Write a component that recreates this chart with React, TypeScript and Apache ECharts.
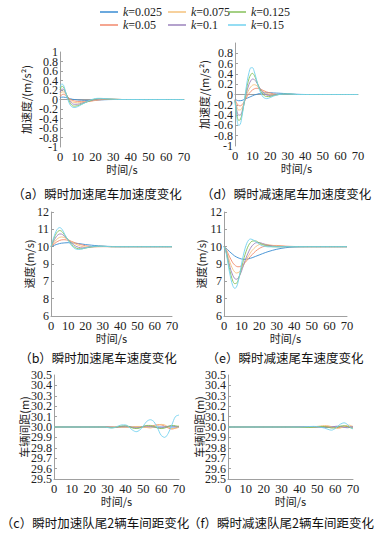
import React, { useEffect, useRef } from "react";
import * as echarts from "echarts";

const names = ["k=0.025", "k=0.05", "k=0.075", "k=0.1", "k=0.125", "k=0.15"];
const colors = ["#3a8dd3", "#f2896c", "#f5c27c", "#9b83bd", "#86c15a", "#72d2ef"];

// (a) instant acceleration - acceleration
const tA = [0, 1, 2, 3, 4, 5, 6, 7, 8, 10, 12, 14, 16, 18, 20, 22, 25, 30, 35, 40, 50, 60, 70];
const accA_025 = [0.03, 0.05, 0.05, 0.045, 0.035, 0.025, 0.015, 0.005, 0, -0.01, -0.015, -0.02, -0.02, -0.02, -0.015, -0.01, -0.005, 0, 0, 0, 0, 0, 0];
const accA_05 = [0.06, 0.1, 0.11, 0.09, 0.06, 0.03, 0, -0.02, -0.03, -0.04, -0.04, -0.04, -0.035, -0.03, -0.02, -0.01, 0, 0.003, 0, 0, 0, 0, 0];
const accA_075 = [0.1, 0.16, 0.16, 0.12, 0.07, 0.02, -0.02, -0.05, -0.06, -0.07, -0.06, -0.05, -0.04, -0.03, -0.01, 0, 0.005, 0.005, 0, 0, 0, 0, 0];
const accA_1 = [0.15, 0.22, 0.21, 0.15, 0.08, 0.01, -0.05, -0.09, -0.1, -0.1, -0.08, -0.06, -0.04, -0.02, 0, 0.01, 0.01, 0.005, 0, 0, 0, 0, 0];
const accA_125 = [0.2, 0.28, 0.26, 0.17, 0.07, -0.02, -0.09, -0.13, -0.14, -0.13, -0.1, -0.07, -0.04, -0.01, 0.01, 0.02, 0.015, 0.005, 0, 0, 0, 0, 0];
const accA_15 = [0.25, 0.33, 0.3, 0.18, 0.05, -0.06, -0.13, -0.16, -0.17, -0.15, -0.11, -0.07, -0.03, 0, 0.02, 0.025, 0.02, 0.005, 0, 0, 0, 0, 0];

// (b) instant acceleration - speed
const tB = [0, 1, 2, 3, 4, 5, 6, 7, 8, 10, 12, 14, 16, 18, 20, 22, 25, 30, 35, 40, 50, 60, 70];
const spdB_025 = [10, 10.04, 10.08, 10.12, 10.15, 10.18, 10.2, 10.21, 10.22, 10.23, 10.22, 10.2, 10.18, 10.15, 10.12, 10.1, 10.07, 10.03, 10.01, 10, 10, 10, 10];
const spdB_05 = [10, 10.08, 10.17, 10.25, 10.31, 10.36, 10.39, 10.4, 10.4, 10.36, 10.3, 10.22, 10.15, 10.1, 10.05, 10.02, 10, 10, 10, 10, 10, 10, 10];
const spdB_075 = [10, 10.13, 10.27, 10.39, 10.48, 10.54, 10.56, 10.55, 10.51, 10.41, 10.28, 10.16, 10.07, 10.01, 9.98, 9.98, 9.99, 10.01, 10, 10, 10, 10, 10];
const spdB_1 = [10, 10.2, 10.4, 10.57, 10.68, 10.73, 10.73, 10.67, 10.58, 10.4, 10.2, 10.05, 9.96, 9.93, 9.94, 9.97, 10, 10.02, 10, 10, 10, 10, 10];
const spdB_125 = [10, 10.28, 10.55, 10.75, 10.88, 10.93, 10.9, 10.8, 10.65, 10.38, 10.12, 9.95, 9.88, 9.88, 9.92, 9.96, 10.01, 10.02, 10, 10, 10, 10, 10];
const spdB_15 = [10, 10.35, 10.65, 10.9, 11.05, 11.1, 11.05, 10.9, 10.7, 10.35, 10.05, 9.88, 9.84, 9.87, 9.93, 9.98, 10.02, 10.02, 10, 10, 10, 10, 10];

// (c) instant acceleration - gap
const tC = [0, 5, 10, 15, 20, 25, 28, 30, 32, 34, 36, 38, 40, 42, 44, 46, 48, 50, 52, 54, 56, 58, 60, 62, 64, 66, 68, 70];
const gapC_025 = [30, 30, 30, 30, 30, 30, 30, 30, 30, 30, 30, 30, 30, 30, 30, 30, 30, 30, 30, 30, 30, 30, 30, 30, 30, 30, 30, 30];
const gapC_05 = [30, 30, 30, 30, 30, 30, 30, 30, 30, 30, 30, 30, 30, 30, 30, 30, 30, 30, 30, 30.005, 30.015, 30.022, 30.02, 30.008, 29.99, 29.98, 29.99, 30.01];
const gapC_075 = [30, 30, 30, 30, 30, 30, 30, 30, 30, 30, 30, 30, 30, 30, 30, 30.005, 30.005, 30, 29.995, 29.99, 30, 30.015, 30.025, 30.02, 30, 29.985, 29.985, 30];
const gapC_1 = [30, 30, 30, 30, 30, 30, 30, 30, 29.997, 29.995, 30, 30.005, 30.008, 30.004, 29.995, 29.99, 29.995, 30.005, 30.01, 30.008, 30, 29.993, 29.992, 30, 30.008, 30.01, 30.005, 30];
const gapC_125 = [30, 30, 30, 30, 30, 30, 30, 29.997, 29.993, 29.995, 30.003, 30.01, 30.012, 30.005, 29.99, 29.985, 29.99, 30.005, 30.015, 30.015, 30.005, 29.99, 29.985, 29.99, 30.005, 30.015, 30.012, 30.005];
const gapC_15 = [30, 30, 30, 30, 30, 30, 30, 29.995, 29.99, 29.995, 30.01, 30.02, 30.02, 30, 29.97, 29.955, 29.97, 30.01, 30.055, 30.07, 30.05, 29.99, 29.92, 29.9, 29.94, 30.02, 30.1, 30.115];

// (d) instant deceleration - acceleration
const tD = [0, 1, 2, 3, 4, 5, 6, 7, 8, 9, 10, 11, 12, 13, 14, 16, 18, 20, 22, 25, 30, 35, 40, 50, 60, 70];
const accD_025 = [-0.09, -0.11, -0.12, -0.12, -0.115, -0.1, -0.085, -0.07, -0.055, -0.04, -0.025, -0.01, 0, 0.01, 0.02, 0.03, 0.035, 0.035, 0.03, 0.025, 0.015, 0.005, 0, 0, 0, 0];
const accD_05 = [-0.1, -0.17, -0.21, -0.22, -0.2, -0.15, -0.09, -0.03, 0.02, 0.06, 0.09, 0.11, 0.12, 0.12, 0.11, 0.08, 0.05, 0.03, 0.01, 0, 0, 0, 0, 0, 0, 0];
const accD_075 = [-0.1, -0.23, -0.3, -0.3, -0.26, -0.18, -0.08, 0.02, 0.1, 0.15, 0.18, 0.19, 0.18, 0.15, 0.12, 0.06, 0.02, 0, -0.005, 0, 0, 0, 0, 0, 0, 0];
const accD_1 = [-0.11, -0.3, -0.4, -0.4, -0.33, -0.2, -0.05, 0.09, 0.2, 0.27, 0.3, 0.29, 0.25, 0.19, 0.13, 0.04, -0.01, -0.02, -0.01, 0, 0, 0, 0, 0, 0, 0];
const accD_125 = [-0.12, -0.38, -0.5, -0.49, -0.38, -0.2, 0, 0.18, 0.31, 0.39, 0.41, 0.37, 0.29, 0.2, 0.11, 0, -0.04, -0.04, -0.02, 0, 0.01, 0, 0, 0, 0, 0];
const accD_15 = [-0.12, -0.45, -0.6, -0.58, -0.42, -0.2, 0.05, 0.27, 0.43, 0.52, 0.52, 0.44, 0.32, 0.19, 0.08, -0.05, -0.08, -0.06, -0.03, 0, 0.01, 0, 0, 0, 0, 0];

// (e) instant deceleration - speed
const tE = [0, 1, 2, 3, 4, 5, 6, 7, 8, 9, 10, 11, 12, 13, 14, 15, 16, 18, 20, 22, 25, 30, 35, 40, 50, 60, 70];
const spdE_025 = [10, 9.92, 9.83, 9.73, 9.64, 9.55, 9.47, 9.41, 9.36, 9.32, 9.29, 9.27, 9.27, 9.28, 9.3, 9.33, 9.36, 9.44, 9.52, 9.6, 9.71, 9.85, 9.94, 9.98, 10, 10, 10];
const spdE_05 = [10, 9.88, 9.68, 9.45, 9.25, 9.07, 8.95, 8.87, 8.84, 8.85, 8.9, 8.98, 9.08, 9.2, 9.32, 9.43, 9.54, 9.74, 9.89, 9.99, 10.06, 10.07, 10.03, 10.01, 10, 10, 10];
const spdE_075 = [10, 9.85, 9.55, 9.22, 8.93, 8.7, 8.55, 8.48, 8.5, 8.58, 8.72, 8.9, 9.1, 9.3, 9.48, 9.64, 9.78, 9.99, 10.12, 10.15, 10.12, 10.04, 10.01, 10, 10, 10, 10];
const spdE_1 = [10, 9.8, 9.4, 9.0, 8.62, 8.35, 8.17, 8.12, 8.18, 8.35, 8.6, 8.9, 9.2, 9.47, 9.7, 9.9, 10.05, 10.22, 10.24, 10.18, 10.08, 10.01, 10, 10, 10, 10, 10];
const spdE_125 = [10, 9.78, 9.3, 8.8, 8.35, 8.02, 7.87, 7.88, 8.05, 8.4, 8.8, 9.2, 9.55, 9.85, 10.08, 10.23, 10.32, 10.33, 10.22, 10.12, 10.03, 9.99, 10, 10, 10, 10, 10];
const spdE_15 = [10, 9.75, 9.2, 8.6, 8.1, 7.75, 7.6, 7.65, 7.95, 8.45, 9.0, 9.5, 9.9, 10.2, 10.38, 10.44, 10.42, 10.3, 10.15, 10.05, 9.99, 9.99, 10, 10, 10, 10, 10];

// (f) instant deceleration - gap
const tF = [0, 10, 20, 30, 40, 45, 48, 50, 52, 54, 56, 57, 58, 60, 62, 63, 64, 65, 66, 67, 68, 69, 70];
const gapF_025 = [30, 30, 30, 30, 30, 30, 30, 30, 30, 30, 30, 30, 30, 30, 30, 30, 30, 30, 30, 30, 30, 30, 30];
const gapF_05 = [30, 30, 30, 30, 30, 30, 30, 30, 30.002, 30.004, 30.004, 30.002, 30, 29.996, 29.995, 29.997, 30, 30.003, 30.005, 30.005, 30.003, 30, 29.998];
const gapF_075 = [30, 30, 30, 30, 30, 30, 30.003, 30.006, 30.01, 30.014, 30.012, 30.008, 30.003, 29.988, 29.985, 29.99, 29.997, 30.005, 30.012, 30.017, 30.018, 30.012, 30.005];
const gapF_1 = [30, 30, 30, 30, 30.002, 30.004, 30.004, 30.002, 29.998, 29.995, 29.995, 29.997, 30, 30.006, 30.008, 30.006, 30.002, 29.997, 29.994, 29.993, 29.995, 30, 30.005];
const gapF_125 = [30, 30, 30, 30, 29.998, 29.996, 29.998, 30.002, 30.005, 30.004, 29.998, 29.994, 29.99, 29.992, 30.002, 30.008, 30.012, 30.013, 30.01, 30.004, 29.996, 29.99, 29.988];
const gapF_15 = [30, 30, 30, 30, 30, 30.004, 30.006, 30.003, 29.997, 29.99, 29.978, 29.972, 29.97, 29.985, 30.015, 30.028, 30.036, 30.04, 30.035, 30.022, 30.005, 29.99, 29.982];

const speedTickLabels: Record<string, string> = { "6": "6", "7": "8", "8": "7", "9": "9", "10": "10", "11": "11", "12": "12" };

const titles = [
  "（a）瞬时加速尾车加速度变化",
  "（d）瞬时减速尾车加速度变化",
  "（b）瞬时加速尾车速度变化",
  "（e）瞬时减速尾车速度变化",
  "（c）瞬时加速队尾2辆车间距变化",
  "（f）瞬时减速队尾2辆车间距变化",
];

const SERIF = "'Liberation Serif', 'Times New Roman', serif";
const CJK = "'Noto Sans CJK SC', sans-serif";

export default function App() {
  const ref = useRef<HTMLDivElement>(null);
  useEffect(() => {
    if (!ref.current) return;
    const chart = echarts.init(ref.current, undefined, { renderer: "svg" });

    const accFmt = (v: number) => String(Math.round(v * 10) / 10);
    const spdFmt = (v: number) => speedTickLabels[String(Math.round(v))] ?? String(v);
    const gapFmt = (v: number) => v.toFixed(1);

    // dense: tick spacing too small for echarts' min/max overlap logic; the end labels go on a twin axis
    const panels = [
      { grid: { left: 60, top: 52, width: 124, height: 95 }, t: tA, data: [accA_025, accA_05, accA_075, accA_1, accA_125, accA_15], min: -1, max: 1, interval: 0.2, yName: "加速度/(m/s²)", nameGap: 29, fmt: accFmt, showMax: true, dense: true },
      { grid: { left: 235, top: 43, width: 123, height: 103 }, t: tD, data: [accD_025, accD_05, accD_075, accD_1, accD_125, accD_15], min: -1, max: 1, interval: 0.2, yName: "加速度/(m/s²)", nameGap: 26, fmt: accFmt, showMax: false, dense: true },
      { grid: { left: 51, top: 212, width: 121, height: 104 }, t: tB, data: [spdB_025, spdB_05, spdB_075, spdB_1, spdB_125, spdB_15], min: 6, max: 12, interval: 1, yName: "速度(m/s)", nameGap: 17, fmt: spdFmt, showMax: true, dense: false },
      { grid: { left: 224, top: 212, width: 123, height: 104 }, t: tE, data: [spdE_025, spdE_05, spdE_075, spdE_1, spdE_125, spdE_15], min: 6, max: 12, interval: 1, yName: "速度(m/s)", nameGap: 18, fmt: spdFmt, showMax: true, dense: false },
      { grid: { left: 54, top: 375, width: 125, height: 104 }, t: tC, data: [gapC_025, gapC_05, gapC_075, gapC_1, gapC_125, gapC_15], min: 29.5, max: 30.5, interval: 0.1, yName: "车辆间距(m)", nameGap: 25, fmt: gapFmt, showMax: true, dense: true },
      { grid: { left: 228, top: 375, width: 125, height: 104 }, t: tF, data: [gapF_025, gapF_05, gapF_075, gapF_1, gapF_125, gapF_15], min: 29.5, max: 30.5, interval: 0.1, yName: "车辆间距(m)", nameGap: 24, fmt: gapFmt, showMax: true, dense: true },
    ];

    const axisLine = { lineStyle: { color: "#a0a0a0", width: 1 } };
    const yLabelBase = { color: "#222", fontFamily: SERIF, fontSize: 12, margin: 2, hideOverlap: false };

    const grids = panels.map((p) => ({ ...p.grid }));
    const xAxes = panels.map((p, i) => ({
      type: "value",
      gridIndex: i,
      min: 0,
      max: 70,
      interval: 10,
      axisLine: { show: true, ...axisLine },
      axisTick: { show: false },
      splitLine: { show: false },
      axisLabel: { color: "#222", fontFamily: SERIF, fontSize: 12.5, margin: 3, hideOverlap: false },
      name: "时间/s",
      nameLocation: "middle",
      nameGap: 16,
      nameMoveOverlap: false,
      nameTextStyle: { color: "#222", fontFamily: CJK, fontSize: 11 },
    }));
    const yAxes: any[] = panels.map((p, i) => ({
      type: "value",
      gridIndex: i,
      min: p.min,
      max: p.max,
      interval: p.interval,
      axisLine: { show: true, ...axisLine },
      axisTick: { show: true, inside: true, length: 3, lineStyle: { color: "#a0a0a0" } },
      splitLine: { show: false },
      axisLabel: {
        ...yLabelBase,
        showMaxLabel: p.dense ? false : p.showMax,
        showMinLabel: p.dense ? false : true,
        formatter: p.fmt,
      },
      name: p.yName,
      nameLocation: "middle",
      nameGap: p.nameGap,
      nameMoveOverlap: false,
      nameTextStyle: { color: "#222", fontFamily: CJK, fontSize: 11 },
    }));
    // twin axes carrying only the end labels of dense axes
    panels.forEach((p, i) => {
      if (!p.dense) return;
      yAxes.push({
        type: "value",
        gridIndex: i,
        position: "left",
        offset: 0,
        min: p.min,
        max: p.max,
        interval: p.max - p.min,
        axisLine: { show: false },
        axisTick: { show: false },
        splitLine: { show: false },
        axisLabel: {
          ...yLabelBase,
          showMaxLabel: p.showMax,
          showMinLabel: true,
          formatter: p.fmt,
        },
      });
    });

    const series: any[] = [];
    panels.forEach((p, i) => {
      p.data.forEach((vals, j) => {
        series.push({
          type: "line",
          name: names[j],
          xAxisIndex: i,
          yAxisIndex: i,
          data: p.t.map((t, k) => [t, vals[k]]),
          symbol: "none",
          showSymbol: false,
          smooth: 0.3,
          lineStyle: { width: 1, color: colors[j], opacity: 0.9 },
          itemStyle: { color: colors[j] },
          z: 2 + j,
        });
      });
    });

    const legendOrder = [
      { name: names[0], left: 100, top: 6 },
      { name: names[2], left: 168, top: 6 },
      { name: names[4], left: 228, top: 6 },
      { name: names[1], left: 100, top: 19 },
      { name: names[3], left: 168, top: 19 },
      { name: names[5], left: 228, top: 19 },
    ];
    const legends = legendOrder.map((l) => ({
      data: [l.name],
      icon: "rect",
      left: l.left,
      top: l.top,
      padding: 0,
      itemWidth: 18,
      itemHeight: 1.5,
      selectedMode: false,
      formatter: (n: string) => `{i|k}{n|${n.slice(1)}}`,
      textStyle: {
        color: "#222",
        fontFamily: SERIF,
        fontSize: 12,
        rich: {
          i: { fontStyle: "italic", fontFamily: SERIF, fontSize: 12, color: "#222" },
          n: { fontFamily: SERIF, fontSize: 12, color: "#222" },
        },
      },
    }));

    const titlePos = [
      [97, 193], [286, 193], [98, 357], [285, 357], [95, 522], [281, 522],
    ];
    const graphic = titles.map((txt, i) => ({
      type: "text",
      x: titlePos[i][0],
      y: titlePos[i][1],
      style: {
        text: txt,
        fill: "#111",
        font: `12.5px ${CJK}`,
        align: "center",
        verticalAlign: "middle",
      },
    }));

    chart.setOption({
      animation: false,
      backgroundColor: "#fff",
      grid: grids,
      xAxis: xAxes,
      yAxis: yAxes,
      legend: legends,
      series,
      graphic,
    });
    return () => chart.dispose();
  }, []);
  return <div ref={ref} style={{ position: "absolute", left: 0, top: 0, width: 377, height: 533 }} />;
}
